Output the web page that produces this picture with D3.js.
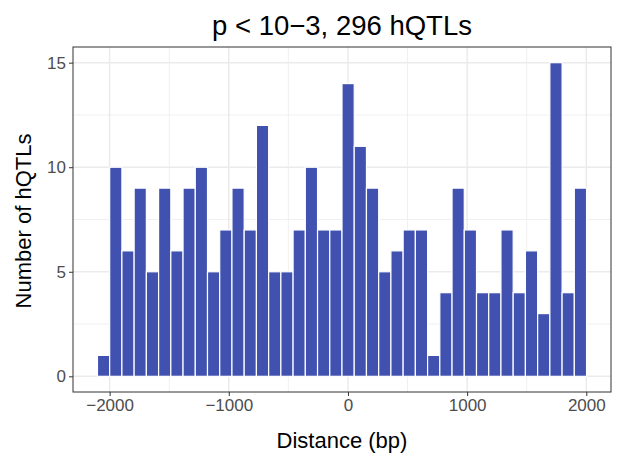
<!DOCTYPE html>
<html>
<head>
<meta charset="utf-8">
<script src="https://cdn.jsdelivr.net/npm/d3@7"></script>
<style>
  body { margin: 0; background: #fff; }
  text { font-family: "Liberation Sans", Arial, Helvetica, sans-serif; }
</style>
</head>
<body>
<svg id="chart"></svg>
<script>
// histogram counts, one per bin, left to right
var counts = [1, 10, 6, 9, 5, 9, 6, 9, 10, 5, 7, 9, 7, 12, 5, 5, 7, 10, 7, 7,
              14, 11, 9, 5, 6, 7, 7, 1, 4, 9, 7, 4, 4, 7, 4, 6, 3, 15, 4, 9];
var binStart = -2102;   // left edge of first bin (bp)
var binWidth = 102.6;   // bin width (bp)
var xTicks = [-2000, -1000, 0, 1000, 2000];
var xMinor = [-1500, -500, 500, 1500];
var yTicks = [0, 5, 10, 15];
var yMinor = [2.5, 7.5, 12.5];
var titleStr = "p < 10\u22123, 296 hQTLs";

var W = 619, H = 458;
var margin = {top: 47, right: 8, bottom: 66, left: 73};

var svg = d3.select("#chart").attr("width", W).attr("height", H);

var bins = counts.map(function(c, i){
  return {x0: binStart + i*binWidth, x1: binStart + (i+1)*binWidth, n: c};
});

var xLo = bins[0].x0, xHi = bins[bins.length-1].x1;
var xPad = (xHi - xLo)*0.05;
var x = d3.scaleLinear()
  .domain([xLo - xPad, xHi + xPad])
  .range([margin.left, W - margin.right]);

var yMax = d3.max(counts);
var y = d3.scaleLinear()
  .domain([-yMax*0.05, yMax*1.05])
  .range([H - margin.bottom, margin.top]);

var g = svg.append("g");

// grid
g.selectAll(".ymin").data(yMinor).enter().append("line")
  .attr("x1", margin.left).attr("x2", W - margin.right)
  .attr("y1", function(d){ return y(d); }).attr("y2", function(d){ return y(d); })
  .attr("stroke", "#f0f0f0").attr("stroke-width", 1);
g.selectAll(".xmin").data(xMinor).enter().append("line")
  .attr("y1", margin.top).attr("y2", H - margin.bottom)
  .attr("x1", function(d){ return x(d); }).attr("x2", function(d){ return x(d); })
  .attr("stroke", "#f0f0f0").attr("stroke-width", 1);
g.selectAll(".ymaj").data(yTicks).enter().append("line")
  .attr("x1", margin.left).attr("x2", W - margin.right)
  .attr("y1", function(d){ return y(d); }).attr("y2", function(d){ return y(d); })
  .attr("stroke", "#ebebeb").attr("stroke-width", 1.5);
g.selectAll(".xmaj").data(xTicks).enter().append("line")
  .attr("y1", margin.top).attr("y2", H - margin.bottom)
  .attr("x1", function(d){ return x(d); }).attr("x2", function(d){ return x(d); })
  .attr("stroke", "#ebebeb").attr("stroke-width", 1.5);

// bars
g.selectAll("rect.bar").data(bins).enter().append("rect")
  .attr("class", "bar")
  .attr("x", function(d){ return x(d.x0); })
  .attr("width", function(d){ return x(d.x1) - x(d.x0); })
  .attr("y", function(d){ return y(d.n); })
  .attr("height", function(d){ return y(0) - y(d.n); })
  .attr("fill", "#4051b0")
  .attr("stroke", "#fff").attr("stroke-width", 1.2);

// panel border
svg.append("rect")
  .attr("x", margin.left).attr("y", margin.top)
  .attr("width", W - margin.right - margin.left)
  .attr("height", H - margin.bottom - margin.top)
  .attr("fill", "none").attr("stroke", "#333").attr("stroke-width", 1);

// axes
var xAxis = svg.append("g")
  .attr("transform", "translate(0," + (H - margin.bottom) + ")")
  .call(d3.axisBottom(x).tickValues(xTicks).tickSize(4).tickPadding(3)
    .tickFormat(function(d){ return d < 0 ? "\u2212" + Math.abs(d) : d; }));
var yAxis = svg.append("g")
  .attr("transform", "translate(" + margin.left + ",0)")
  .call(d3.axisLeft(y).tickValues(yTicks).tickSize(4).tickPadding(3));

[xAxis, yAxis].forEach(function(a){
  a.select(".domain").remove();
  a.selectAll(".tick line").attr("stroke", "#333");
  a.selectAll(".tick text").attr("fill", "#4d4d4d")
    .style("font-size", "17px");
});

// titles
svg.append("text")
  .attr("x", (margin.left + W - margin.right)/2).attr("y", 35)
  .attr("text-anchor", "middle").style("font-size", "27.5px").attr("fill", "#000")
  .text(titleStr);
svg.append("text")
  .attr("x", (margin.left + W - margin.right)/2).attr("y", 448)
  .attr("text-anchor", "middle").style("font-size", "22px").attr("fill", "#000")
  .text("Distance (bp)");
svg.append("text")
  .attr("transform", "translate(31,221) rotate(-90)")
  .attr("text-anchor", "middle").style("font-size", "22px").attr("fill", "#000")
  .text("Number of hQTLs");
</script>
</body>
</html>
